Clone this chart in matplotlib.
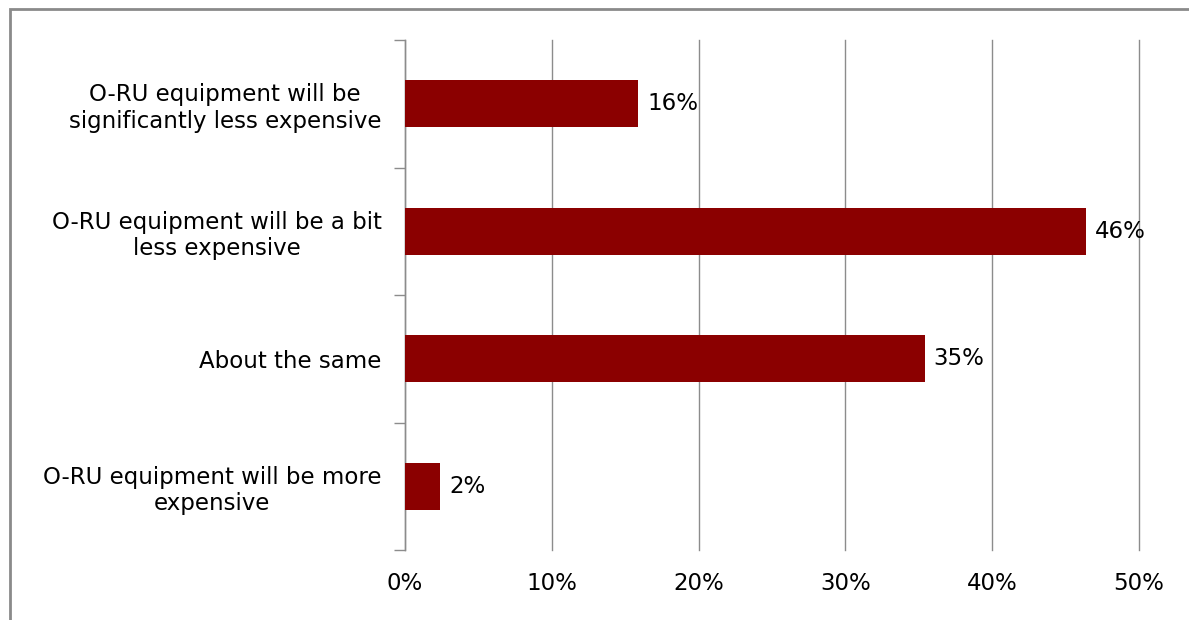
import matplotlib.pyplot as plt
from matplotlib.patches import Rectangle

# Survey answers, top to bottom as shown
categories = [
    "O-RU equipment will be\nsignificantly less expensive",
    "O-RU equipment will be a bit\nless expensive",
    "About the same",
    "O-RU equipment will be more\nexpensive",
]
shares = [15.9, 46.4, 35.4, 2.4]
share_labels = ["16%", "46%", "35%", "2%"]
x_ticks = [0, 10, 20, 30, 40, 50]
x_tick_labels = ["0%", "10%", "20%", "30%", "40%", "50%"]

bar_color = "#8B0000"
grid_color = "#8c8c8c"
font_size = 16.5

fig = plt.figure(figsize=(11.89, 6.2), dpi=100)
ax = fig.add_axes([405 / 1189, 1 - 550 / 620, (1139 - 405) / 1189, (550 - 40) / 620])

# grey frame around the chart area (runs off the right and bottom edges)
fig.patches.append(Rectangle((9.5 / 1189, -0.2), 1.2, 1.2 - 8.5 / 620,
                             transform=fig.transFigure, fill=False,
                             edgecolor="#8a8a8a", linewidth=2, zorder=0))

pos = list(range(len(categories)))[::-1]
ax.barh(pos, shares, height=0.37, color=bar_color, zorder=3)

for p, v, lab in zip(pos, shares, share_labels):
    ax.text(v + 0.6, p, lab, va="center", ha="left", fontsize=font_size, color="black")

ax.set_xlim(0, 50)
ax.set_ylim(-0.5, len(categories) - 0.5)

# category labels on minor ticks, tick marks on band boundaries
ax.set_yticks([i - 0.5 for i in range(len(categories) + 1)])
ax.set_yticklabels([])
ax.set_yticks(pos, minor=True)
ax.set_yticklabels(categories, minor=True, fontsize=font_size, ha="right",
                   multialignment="center")
ax.tick_params(axis="y", which="major", length=8, width=1, color=grid_color, direction="out")
ax.tick_params(axis="y", which="minor", length=0, pad=17)

ax.set_xticks(x_ticks)
ax.set_xticklabels(x_tick_labels, fontsize=font_size)
ax.tick_params(axis="x", length=0, pad=16)

ax.grid(axis="x", color=grid_color, linewidth=1, zorder=0)
for gl in ax.get_xgridlines():
    gl.set_clip_on(False)
for s in ["top", "right", "bottom"]:
    ax.spines[s].set_visible(False)
ax.spines["left"].set_color(grid_color)
ax.spines["left"].set_linewidth(1)

plt.savefig("out.png", dpi=100)
